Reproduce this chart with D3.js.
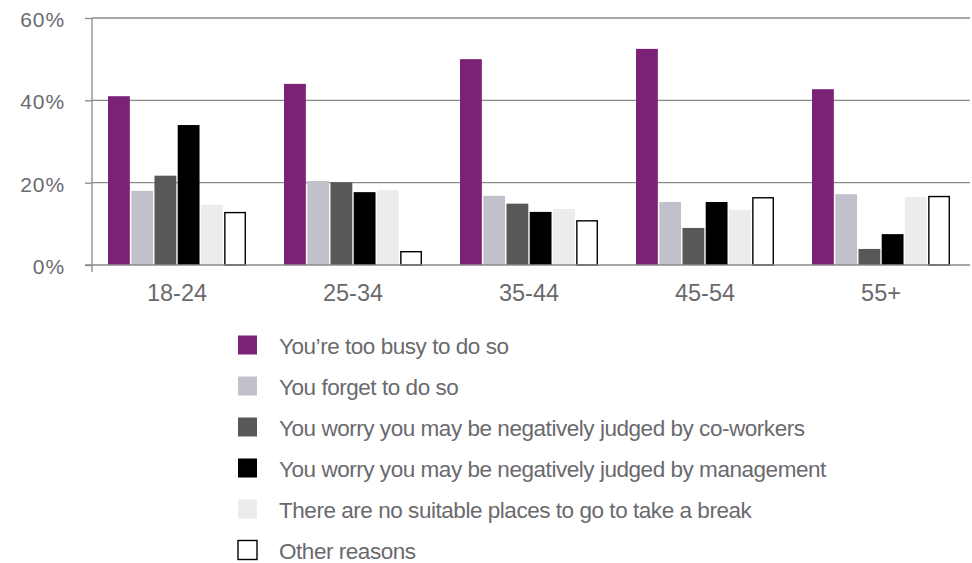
<!DOCTYPE html>
<html><head><meta charset="utf-8">
<script src="https://cdn.jsdelivr.net/npm/d3@7"></script>
<style>
body{margin:0;background:#fff;}
svg{display:block;font-family:"Liberation Sans",Arial,sans-serif;}
</style></head>
<body><svg id="c" width="972" height="563"></svg>
<script>
const categories = ["18-24","25-34","35-44","45-54","55+"];
const seriesNames = [
  "You\u2019re too busy to do so",
  "You forget to do so",
  "You worry you may be negatively judged by co-workers",
  "You worry you may be negatively judged by management",
  "There are no suitable places to go to take a break",
  "Other reasons"
];
const tooBusy    = [41.0, 44.0, 50.0, 52.5, 42.7];
const forget     = [18.0, 20.4, 16.8, 15.3, 17.2];
const coworkers  = [21.7, 20.1, 14.9, 9.0, 3.9];
const management = [34.0, 17.7, 12.9, 15.3, 7.5];
const noPlaces   = [14.6, 18.2, 13.6, 13.4, 16.5];
const other      = [12.9, 3.4, 10.9, 16.5, 16.8];
const yTicks = [0, 20, 40, 60];

const seriesValues = [tooBusy, forget, coworkers, management, noPlaces, other];
const fills = ["#7b2276","#c1c1cb","#595856","#000000","#ececec","#ffffff"];
const strokes = [null,null,null,null,null,"#000"];

const svg = d3.select("#c");
const y = d3.scaleLinear().domain([0,60]).range([265,18]);
const x0 = d3.scaleBand().domain(categories).range([89,969]).paddingInner(0.216).paddingOuter(0.108);
const x1 = d3.scaleBand().domain(d3.range(seriesNames.length)).range([0,x0.bandwidth()]).paddingInner(0.06).paddingOuter(0);

// y axis ticks + labels
const gAxis = svg.append("g").attr("transform","translate(92,0)")
  .call(d3.axisLeft(y).tickValues(yTicks).tickSize(7).tickFormat(d=>d+"%"));
gAxis.select(".domain").remove();
gAxis.selectAll(".tick line").attr("stroke","#8a8a8c").attr("stroke-width",1.3);
gAxis.selectAll(".tick text").attr("x",-27).attr("dy","0.4em").attr("font-size",21).attr("letter-spacing",0.9)
  .attr("fill","#6a6a6e").attr("font-family","Liberation Sans, Arial, sans-serif");
svg.append("g").selectAll("line").data(yTicks.filter(d=>d>0)).join("line")
  .attr("x1",92).attr("x2",970).attr("y1",d=>y(d)).attr("y2",d=>y(d))
  .attr("stroke","#8a8a8c").attr("stroke-width",1.3);

// bars
const groups = svg.append("g").selectAll("g").data(categories).join("g")
  .attr("transform",d=>`translate(${x0(d)},0)`);
groups.selectAll("rect").data((c,ci)=>seriesValues.map((s,si)=>({si,v:s[ci]}))).join("rect")
  .attr("x",d=>x1(d.si)+(strokes[d.si]?0.7:0))
  .attr("width",d=>x1.bandwidth()-(strokes[d.si]?1.4:0))
  .attr("y",d=>y(d.v)+(strokes[d.si]?0.7:0))
  .attr("height",d=>y(0)-y(d.v)-(strokes[d.si]?0.7:0))
  .attr("fill",d=>fills[d.si])
  .attr("stroke",d=>strokes[d.si]||"none").attr("stroke-width",1.4);

// x axis baseline and y axis line
svg.append("line").attr("x1",85).attr("x2",970).attr("y1",y(0)).attr("y2",y(0))
  .attr("stroke","#8a8a8c").attr("stroke-width",1.5);
svg.append("line").attr("x1",92).attr("x2",92).attr("y1",y(60)).attr("y2",272)
  .attr("stroke","#8a8a8c").attr("stroke-width",1.3);

// category labels
const gx = svg.append("g").attr("transform",`translate(0,${y(0)})`)
  .call(d3.axisBottom(x0).tickSize(0).tickPadding(0));
gx.select(".domain").remove();
gx.selectAll(".tick text").attr("y",36).attr("dy",0).attr("font-size",23.5).attr("fill","#6a6a6e")
  .attr("font-family","Liberation Sans, Arial, sans-serif");

// legend
const leg = svg.append("g").selectAll("g").data(seriesNames).join("g")
  .attr("transform",(d,i)=>`translate(238,${345+i*41})`);
leg.append("rect").attr("x",0).attr("y",-9.5).attr("width",19).attr("height",19)
  .attr("fill",(d,i)=>fills[i]).attr("stroke",(d,i)=>strokes[i]||"none").attr("stroke-width",1.4);
leg.append("text").attr("x",41).attr("y",8.5).text(d=>d).attr("font-size",22.5)
  .attr("letter-spacing",-0.46).attr("fill","#6a6a6e");
</script></body></html>
